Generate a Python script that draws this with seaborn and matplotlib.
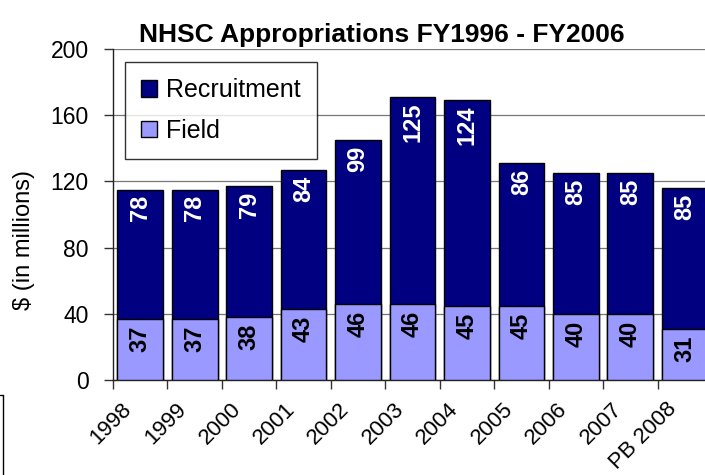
import numpy as np
import pandas as pd
import seaborn as sns
import matplotlib.pyplot as plt
from matplotlib.lines import Line2D
from matplotlib.patches import Patch
from matplotlib.transforms import ScaledTranslation

years = ["1998", "1999", "2000", "2001", "2002", "2003", "2004", "2005", "2006", "2007", "PB 2008"]
field = [37, 37, 38, 43, 46, 46, 45, 45, 40, 40, 31]
recruitment = [78, 78, 79, 84, 99, 125, 124, 86, 85, 85, 85]

navy = "#000080"
lilac = "#9999FF"

sns.set_style("white")
plt.rcParams["font.family"] = ["Liberation Sans", "DejaVu Sans"]
plt.rcParams.update({"text.color": "black", "axes.labelcolor": "black",
                     "xtick.color": "black", "ytick.color": "black"})

df = pd.DataFrame({"year": years, "field": field, "recruitment": recruitment})
df["total"] = df["field"] + df["recruitment"]

fig = plt.figure(figsize=(7.05, 4.75), dpi=100)
ax = fig.add_axes([113 / 705, 95 / 475, 599 / 705, 331 / 475])

# stacked bars: total (navy) then field on top of it
sns.barplot(data=df, x="year", y="total", color=navy, width=0.84,
            edgecolor="black", linewidth=1, saturation=1, ax=ax, zorder=2)
sns.barplot(data=df, x="year", y="field", color=lilac, width=0.84,
            edgecolor="black", linewidth=1, saturation=1, ax=ax, zorder=3)

# value labels
for i, (f, t, r) in enumerate(zip(df["field"], df["total"], df["recruitment"])):
    ax.annotate(str(r), (i, t), xytext=(0, -4), textcoords="offset points",
                rotation=90, ha="center", va="top", color="white",
                fontsize=17, fontweight="bold", zorder=5)
    ax.annotate(str(f), (i, f), xytext=(0, -5), textcoords="offset points",
                rotation=90, ha="center", va="top", color="black",
                fontsize=17, fontweight="bold", zorder=5)

ax.set_ylim(0, 200)
ax.set_xlim(-0.5, 10.5)
ax.set_yticks(range(0, 201, 40))
ax.tick_params(axis="y", labelsize=16.5, direction="out", length=6.5, width=1,
               left=True, pad=11, color="#333333", labelcolor="black")
ax.yaxis.grid(True, color="#777777", linewidth=0.9, zorder=0)
ax.set_axisbelow(True)

# x ticks at category boundaries, labels at centres
ax.set_xticks(np.arange(len(years)))
ax.set_xticklabels(years, rotation=45, ha="right", va="top", rotation_mode="anchor", fontsize=16)
ax.tick_params(axis="x", which="major", length=0, pad=9, labelcolor="black")
ax.set_xticks(np.arange(len(years) + 1) - 0.5, minor=True)
ax.tick_params(axis="x", which="minor", direction="out", length=6.5, width=1,
               bottom=True, color="#333333")
shift = ScaledTranslation(-0.19, -0.06, fig.dpi_scale_trans)
for lab in ax.get_xticklabels():
    lab.set_transform(lab.get_transform() + shift)

ax.set_xlabel("")
ax.set_ylabel("$ (in millions)", fontsize=17, color="black")
ax.yaxis.set_label_coords(-0.13, 0.423)
ax.set_title("NHSC Appropriations FY1996 - FY2006", fontsize=19, fontweight="bold",
             pad=5, x=0.448, color="black")

for s in ["top", "right"]:
    ax.spines[s].set_visible(False)
for s in ["left", "bottom"]:
    ax.spines[s].set_color("#222222")
    ax.spines[s].set_linewidth(1)

handles = [Patch(facecolor=navy, edgecolor="black", label="Recruitment"),
           Patch(facecolor=lilac, edgecolor="black", label="Field")]
leg = ax.legend(handles=handles, loc="upper left", bbox_to_anchor=(0.02, 0.96),
                fontsize=18, frameon=True, fancybox=False, edgecolor="black",
                labelspacing=0.65, handlelength=0.65, handleheight=0.65,
                handletextpad=0.35, borderpad=0.65, borderaxespad=0,
                labelcolor="black")
leg.get_frame().set_linewidth(1)
leg.set_zorder(6)

# fragment of a box at the lower left edge
fig.add_artist(Line2D([3 / 705, 3 / 705], [0, 80 / 475], color="black", linewidth=1))
fig.add_artist(Line2D([0, 3 / 705], [80 / 475, 80 / 475], color="black", linewidth=1))

fig.savefig("out.png", dpi=100)
